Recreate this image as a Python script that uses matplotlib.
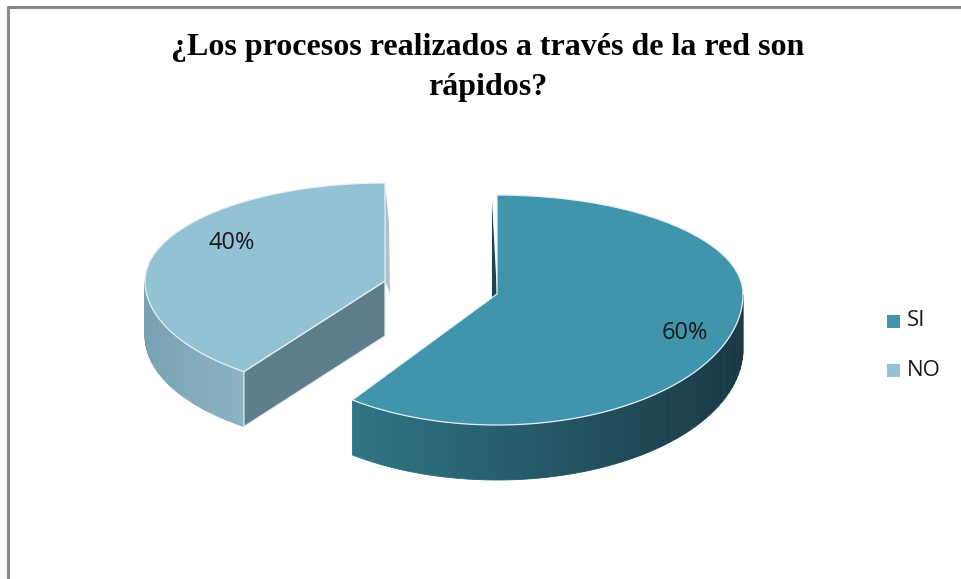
import numpy as np
import matplotlib.pyplot as plt
from matplotlib.patches import Polygon, Rectangle
from matplotlib.colors import to_rgb

# data
labels = ['SI', 'NO']
values = [60, 40]
top_colors = ['#4095ad', '#93c2d4']
side_left = ['#2f7587', '#78a2b2']
side_right = ['#1a3945', '#8bb3c3']
radial_colors = ['#1d4350', '#5f7e8b']

# geometry (pixels): center, rx, ry back, ry front
centers = [(497, 294), (385, 281)]
rxs = [246, 240]
ry_back = [99, 98]
ry_front = [131, 112]
depth = 55

fig = plt.figure(figsize=(9.61, 5.79), dpi=100)
ax = fig.add_axes([0, 0, 1, 1])
ax.set_xlim(0, 961)
ax.set_ylim(579, 0)
ax.axis('off')

# chart frame
ax.plot([8, 8, 961], [579, 7, 7], color='#888888', lw=2.2, solid_capstyle='butt')


def pt(i, t, dz=0):
    c = centers[i]
    s = np.sin(t)
    ry = ry_back[i] if s > 0 else ry_front[i]
    return (c[0] + rxs[i] * np.cos(t), c[1] - ry * s + dz)


def mix(c1, c2, f):
    a, b = np.array(to_rgb(c1)), np.array(to_rgb(c2))
    return tuple(a + (b - a) * f)


# slice angles: start at 12 o'clock, clockwise
fr = np.array(values) / sum(values)
starts, ends = [], []
a = np.pi / 2
for f in fr:
    starts.append(a - 2 * np.pi * f)
    ends.append(a)
    a -= 2 * np.pi * f

order = [1, 0]  # back slice first
for i in order:
    c = centers[i]
    t0, t1 = starts[i], ends[i]
    # outer side, only the front-facing part (sin < 0)
    ts = np.linspace(t0, t1, 400)
    front = ts[np.sin(ts) < 0]
    if len(front) > 1:
        xs = c[0] + rxs[i] * np.cos(front)
        xmin, xmax = xs.min(), xs.max()
        n = 60
        for k in range(n):
            seg = front[k * (len(front) - 1) // n:(k + 1) * (len(front) - 1) // n + 1]
            if len(seg) < 2:
                continue
            upper = [pt(i, t) for t in seg]
            lower = [pt(i, t, depth) for t in seg[::-1]]
            xm = c[0] + rxs[i] * np.cos(seg.mean())
            f = (xm - xmin) / (xmax - xmin)
            col = mix(side_left[i], side_right[i], f)
            ax.add_patch(Polygon(upper + lower, closed=True, fc=col, ec=col, lw=0.6))
    if i == 1:
        # radial face towards the viewer
        p = pt(i, t1)
        ax.add_patch(Polygon([c, p, (p[0], p[1] + depth), (c[0], c[1] + depth)], closed=True,
                             fc=radial_colors[i], ec='#e4ecef', lw=0.9))
        # thin face at 12 o'clock seen almost edge-on
        p = pt(i, t0)
        ax.add_patch(Polygon([(p[0], p[1]), (p[0] + 4, p[1] + 40), (c[0] + 5, c[1] + 12), c],
                             closed=True, fc='#a9c4cf', ec='none'))
    else:
        p = pt(i, t1)
        ax.add_patch(Polygon([c, (p[0] - 5, p[1] + 6), (c[0] - 5, c[1] + 8)], closed=True,
                             fc=radial_colors[i], ec='none'))
    # top face
    tt = np.linspace(t0, t1, 300)
    poly = [c] + [pt(i, t) for t in tt]
    ax.add_patch(Polygon(poly, closed=True, fc=top_colors[i], ec='#e8f0f3', lw=0.9))

# percentage labels
label_pos = [(685, 333), (232, 243)]
for i in range(len(values)):
    ax.text(label_pos[i][0], label_pos[i][1], f'{values[i]}%', fontsize=17, family='Open Sans',
            ha='center', va='center', color='#1a1a1a')

# legend
leg_y = [321, 370]
for i in range(len(labels)):
    ax.add_patch(Rectangle((887, leg_y[i] - 6), 13, 13, fc=top_colors[i], ec='none'))
    ax.text(907, leg_y[i], labels[i], fontsize=16, family='Open Sans', ha='left', va='center',
            color='#1a1a1a')

# title
ax.text(488, 48, '¿Los procesos realizados a través de la red son', fontsize=23, family='Liberation Serif',
        weight='bold', ha='center', va='center')
ax.text(488, 88, 'rápidos?', fontsize=23, family='Liberation Serif', weight='bold', ha='center', va='center')

fig.savefig('out.png', dpi=100)
